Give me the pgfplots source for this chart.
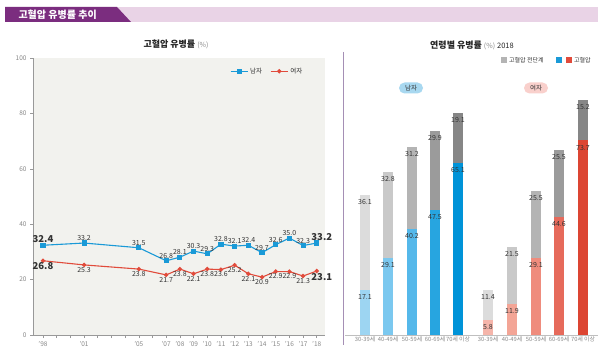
\documentclass[border=0pt]{standalone}
\usepackage{pgfplots}
\pgfplotsset{compat=1.18}
\usepackage{fontspec}
\setmainfont{Noto Sans CJK KR}
\definecolor{bannerpurple}{HTML}{7B2D7F}
\definecolor{bannerpink}{HTML}{E9D3E6}
\definecolor{panelbg}{HTML}{F2F2EE}
\definecolor{axisgray}{HTML}{999999}
\definecolor{ticktext}{HTML}{888888}
\definecolor{labeltext}{HTML}{333333}
\definecolor{maleblue}{HTML}{1A9AD7}
\definecolor{femred}{HTML}{E14B3B}
\definecolor{sepline}{HTML}{A58FB5}
\definecolor{b1}{HTML}{9DD5F2}
\definecolor{b2}{HTML}{7BC8EF}
\definecolor{b3}{HTML}{55B8EA}
\definecolor{b4}{HTML}{27A5E0}
\definecolor{b5}{HTML}{0093D8}
\definecolor{g1}{HTML}{DCDCDC}
\definecolor{g2}{HTML}{C9C9C9}
\definecolor{g3}{HTML}{B4B4B4}
\definecolor{g4}{HTML}{9B9B9B}
\definecolor{g5}{HTML}{868686}
\definecolor{r1}{HTML}{F5B5AA}
\definecolor{r2}{HTML}{F3A596}
\definecolor{r3}{HTML}{EF8C7D}
\definecolor{r4}{HTML}{E66A5B}
\definecolor{r5}{HTML}{DC4532}
\definecolor{badgeblue}{HTML}{A8D8F0}
\definecolor{badgepink}{HTML}{F9D0CC}
\pgfplotsset{mb/.style={ybar, bar width=10pt, bar shift=0pt, draw=none, fill=#1}}
\begin{document}
\begin{tikzpicture}
\useasboundingbox (0pt,0pt) rectangle (600pt,354pt);
\fill[white] (0pt,0pt) rectangle (600pt,354pt);
% banner
\fill[bannerpink] (110pt,332pt) rectangle (598pt,347pt);
\fill[bannerpurple] (5pt,347pt) -- (117pt,347pt) -- (131pt,332pt) -- (5pt,332pt) -- cycle;
\node[anchor=west, text=white, font=\bfseries\fontsize{10}{10}\selectfont] at (15pt,339.5pt) {고혈압 유병률 추이};
% titles
\node[font=\fontsize{9}{9}\selectfont, text=black!85] at (176pt,310pt) {\textbf{고혈압 유병률} {\color{ticktext}\fontsize{7}{7}\selectfont(\%)}};
\node[font=\fontsize{9}{9}\selectfont, text=black!85] at (472pt,309pt) {\textbf{연령별 유병률} {\color{ticktext}\fontsize{7}{7}\selectfont(\%)} {\fontsize{7.5}{7.5}\selectfont 2018}};
% separator
\draw[sepline, line width=0.8pt] (343pt,302pt) -- (343pt,9pt);

\begin{axis}[
 at={(33pt,19pt)}, anchor=south west, scale only axis, width=292pt, height=277pt,
 xmin=1997.27, xmax=2018.6, ymin=0, ymax=100,
 axis x line*=bottom, axis y line*=left,
 axis line style={draw=axisgray, line width=0.8pt, -},
 axis background/.style={fill=panelbg},
 xtick={1998,...,2018},
 xticklabels={'98,,,'01,,,,'05,,'07,'08,'09,'10,'11,'12,'13,'14,'15,'16,'17,'18},
 ytick={0,20,...,100},
 tick align=outside, major tick length=3pt,
 tick style={axisgray, line width=0.6pt},
 tick label style={font=\fontsize{6.5}{6.5}\selectfont, text=ticktext},
 /pgf/number format/assume math mode=true,
 clip=false,
 legend style={at={(0.94,0.98)}, anchor=north east, draw=none, fill=none,
   legend columns=2, font=\fontsize{6.5}{6.5}\selectfont, text=labeltext,
   /tikz/every even column/.append style={column sep=6pt}},
]
\addplot[color=maleblue, line width=1.1pt, mark=square*, mark size=2pt] coordinates {
(1998,32.4)(2001,33.2)(2005,31.5)(2007,26.8)(2008,28.1)(2009,30.3)(2010,29.3)(2011,32.8)(2012,32.1)(2013,32.4)(2014,29.7)(2015,32.6)(2016,35.0)(2017,32.3)(2018,33.2)};
\addlegendentry{남자}
\addplot[color=femred, line width=1.1pt, mark=*, mark size=1.6pt] coordinates {
(1998,26.8)(2001,25.3)(2005,23.8)(2007,21.7)(2008,23.8)(2009,22.1)(2010,23.8)(2011,23.6)(2012,25.2)(2013,22.1)(2014,20.9)(2015,22.9)(2016,22.9)(2017,21.3)(2018,23.1)};
\addlegendentry{여자}
% labels male
\addplot[draw=none, forget plot, nodes near coords, point meta=explicit symbolic,
  nodes near coords style={font=\fontsize{7}{7}\selectfont, text=labeltext, anchor=south, yshift=0.5pt, inner sep=1.5pt}] coordinates {
(2001,33.2)[33.2](2005,31.5)[31.5](2007,26.8)[26.8](2008,28.1)[28.1](2009,30.3)[30.3](2010,29.3)[29.3](2011,32.8)[32.8](2012,32.1)[32.1](2013,32.4)[32.4](2014,29.7)[29.7](2015,32.6)[32.6](2016,35.0)[35.0](2017,32.3)[32.3]};
% labels female
\addplot[draw=none, forget plot, nodes near coords, point meta=explicit symbolic,
  nodes near coords style={font=\fontsize{7}{7}\selectfont, text=labeltext, anchor=north, yshift=-0.5pt, inner sep=1.5pt}] coordinates {
(2001,25.3)[25.3](2005,23.8)[23.8](2007,21.7)[21.7](2008,23.8)[23.8](2009,22.1)[22.1](2010,23.8)[23.8](2011,23.6)[23.6](2012,25.2)[25.2](2013,22.1)[22.1](2014,20.9)[20.9](2015,22.9)[22.9](2016,22.9)[22.9](2017,21.3)[21.3]};
% endpoint labels
\addplot[draw=none, forget plot, nodes near coords, point meta=explicit symbolic,
  nodes near coords style={font=\bfseries\fontsize{9.5}{9.5}\selectfont, text=labeltext, anchor=south, yshift=0.5pt, inner sep=1.5pt}] coordinates {(1998,32.4)[32.4]};
\addplot[draw=none, forget plot, nodes near coords, point meta=explicit symbolic,
  nodes near coords style={font=\bfseries\fontsize{9.5}{9.5}\selectfont, text=labeltext, anchor=north, yshift=-0.5pt, inner sep=1.5pt}] coordinates {(1998,26.8)[26.8]};
\addplot[draw=none, forget plot, nodes near coords, point meta=explicit symbolic,
  nodes near coords style={font=\bfseries\fontsize{9.5}{9.5}\selectfont, text=labeltext, anchor=south, yshift=0.5pt, xshift=5pt, inner sep=1.5pt}] coordinates {(2018,33.2)[33.2]};
\addplot[draw=none, forget plot, nodes near coords, point meta=explicit symbolic,
  nodes near coords style={font=\bfseries\fontsize{9.5}{9.5}\selectfont, text=labeltext, anchor=north, yshift=-0.5pt, xshift=5pt, inner sep=1.5pt}] coordinates {(2018,23.1)[23.1]};
\end{axis}

\begin{axis}[
 at={(345pt,19pt)}, anchor=south west, scale only axis, width=253pt, height=264pt,
 xmin=345, xmax=598, ymin=0, ymax=100,
 axis y line=none, ytick=\empty,
 axis x line*=bottom, axis line style={draw=black!25, line width=0.5pt, -},
 xtick={365,388,412,435,458,488,512,536,559,583},
 xticklabels={30-39세,40-49세,50-59세,60-69세,70세 이상,30-39세,40-49세,50-59세,60-69세,70세 이상},
 major tick length=0pt, tick style={draw=none},
 xticklabel style={font=\fontsize{5.8}{5.8}\selectfont, text=ticktext, inner sep=2pt},
 clip=false,
 nodes near coords, point meta=explicit symbolic,
 nodes near coords style={font=\fontsize{7}{7}\selectfont, text=labeltext, anchor=north, yshift=-1pt},
]
% male (total height with pre-hypertension label, then hypertension)
\addplot[mb=g1] coordinates {(365,53.2)[36.1]};
\addplot[mb=b1] coordinates {(365,17.1)[17.1]};
\addplot[mb=g2] coordinates {(388,61.9)[32.8]};
\addplot[mb=b2] coordinates {(388,29.1)[29.1]};
\addplot[mb=g3] coordinates {(412,71.4)[31.2]};
\addplot[mb=b3] coordinates {(412,40.2)[40.2]};
\addplot[mb=g4] coordinates {(435,77.4)[29.9]};
\addplot[mb=b4] coordinates {(435,47.5)[47.5]};
\addplot[mb=g5] coordinates {(458,84.2)[19.1]};
\addplot[mb=b5] coordinates {(458,65.1)[65.1]};
% female
\addplot[mb=g1] coordinates {(488,17.2)[11.4]};
\addplot[mb=r1] coordinates {(488,5.8)[5.8]};
\addplot[mb=g2] coordinates {(512,33.4)[21.5]};
\addplot[mb=r2] coordinates {(512,11.9)[11.9]};
\addplot[mb=g3] coordinates {(536,54.6)[25.5]};
\addplot[mb=r3] coordinates {(536,29.1)[29.1]};
\addplot[mb=g4] coordinates {(559,70.1)[25.5]};
\addplot[mb=r4] coordinates {(559,44.6)[44.6]};
\addplot[mb=g5] coordinates {(583,88.9)[15.2]};
\addplot[mb=r5] coordinates {(583,73.7)[73.7]};
\end{axis}

% right legend
\fill[g3] (501pt,290.5pt) rectangle (507pt,296.5pt);
\node[anchor=west, font=\fontsize{6}{6}\selectfont, text=labeltext, inner sep=1pt] at (508pt,293.5pt) {고혈압 전단계};
\fill[maleblue] (556pt,290.5pt) rectangle (562pt,296.5pt);
\fill[femred] (566pt,290.5pt) rectangle (572pt,296.5pt);
\node[anchor=west, font=\fontsize{6}{6}\selectfont, text=labeltext, inner sep=1pt] at (573pt,293.5pt) {고혈압};
% badges
\node[fill=badgeblue, rounded corners=5.5pt, minimum width=24pt, minimum height=11pt, inner sep=1pt, font=\fontsize{6.5}{6.5}\selectfont, text=labeltext] at (411pt,266pt) {남자};
\node[fill=badgepink, rounded corners=5.5pt, minimum width=24pt, minimum height=11pt, inner sep=1pt, font=\fontsize{6.5}{6.5}\selectfont, text=labeltext] at (536pt,266pt) {여자};
\end{tikzpicture}
\end{document}
